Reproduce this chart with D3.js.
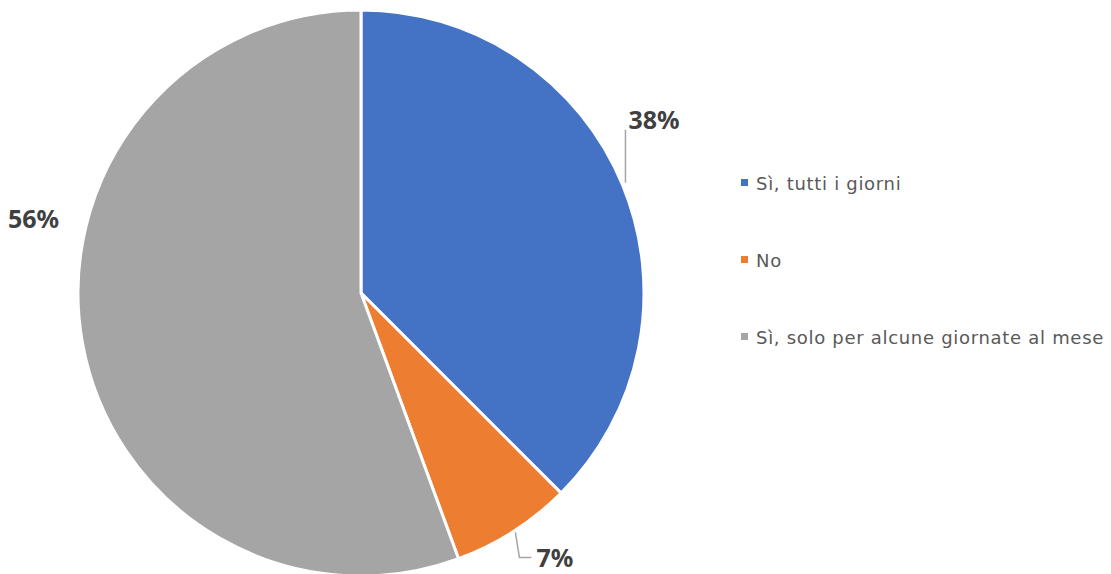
<!DOCTYPE html>
<html>
<head>
<meta charset="utf-8">
<script src="https://cdn.jsdelivr.net/npm/d3@7"></script>
<style>
  html, body { margin: 0; padding: 0; background: #fff; }
  svg { display: block; }
</style>
</head>
<body>
<svg id="chart" width="1111" height="574"></svg>
<script>
// Survey answers and their shares (percent)
const categories = ["Sì, tutti i giorni", "No", "Sì, solo per alcune giornate al mese"];
const values = [37.5, 6.9, 55.6];
const colors = ["#4472C4", "#ED7D31", "#A5A5A5"];

const svg = d3.select("#chart");
const cx = 361, cy = 293, radius = 283;

const pie = d3.pie().sort(null).value(d => d.value);
const arcs = pie(categories.map((c, i) => ({ name: c, value: values[i], color: colors[i] })));
const arc = d3.arc().innerRadius(0).outerRadius(radius);

const g = svg.append("g").attr("transform", `translate(${cx},${cy})`);

g.selectAll("path.slice")
  .data(arcs)
  .enter().append("path")
  .attr("class", "slice")
  .attr("d", arc)
  .attr("fill", d => d.data.color)
  .attr("stroke", "#fff")
  .attr("stroke-width", 3)
  .attr("stroke-linejoin", "round");

// Point on the rim at a slice's mid angle
function rimPoint(d, r) {
  const a = (d.startAngle + d.endAngle) / 2;
  return [r * Math.sin(a), -r * Math.cos(a)];
}

const fmt = v => Math.round(v) + "%";
const labelFont = "'Noto Sans', 'DejaVu Sans', sans-serif";
const labelSize = 25;

// 38% label with a vertical leader line
{
  const d = arcs[0];
  const [x0, y0] = rimPoint(d, radius);
  g.append("polyline")
    .attr("points", `${x0 + 3},${y0 - 2} ${x0 + 3},${y0 - 55}`)
    .attr("fill", "none").attr("stroke", "#A6A6A6").attr("stroke-width", 1.5);
  g.append("text")
    .attr("x", x0 + 6).attr("y", y0 - 56)
    .attr("font-family", labelFont).attr("font-weight", 700)
    .attr("font-size", labelSize).attr("fill", "#404040")
    .text(fmt(d.data.value));
}

// 7% label with an elbow leader line
{
  const d = arcs[1];
  const [x0, y0] = rimPoint(d, radius);
  g.append("polyline")
    .attr("points", `${x0 + 2},${y0 + 1} ${x0 + 6},${y0 + 26} ${x0 + 18},${y0 + 26}`)
    .attr("fill", "none").attr("stroke", "#A6A6A6").attr("stroke-width", 1.5);
  g.append("text")
    .attr("x", x0 + 23).attr("y", y0 + 36)
    .attr("font-family", labelFont).attr("font-weight", 700)
    .attr("font-size", labelSize).attr("fill", "#404040")
    .text(fmt(d.data.value));
}

// 56% label placed outside the left edge
{
  const d = arcs[2];
  g.append("text")
    .attr("x", -radius - 70).attr("y", -65)
    .attr("font-family", labelFont).attr("font-weight", 700)
    .attr("font-size", labelSize).attr("fill", "#404040")
    .text(fmt(d.data.value));
}

// Legend
const legendY = d3.scalePoint().domain(categories).range([183, 337]);
const legend = svg.append("g");
const items = legend.selectAll("g.item")
  .data(arcs)
  .enter().append("g")
  .attr("class", "item")
  .attr("transform", d => `translate(741,${legendY(d.data.name)})`);

items.append("rect")
  .attr("x", 0).attr("y", -4)
  .attr("width", 7).attr("height", 7)
  .attr("fill", d => d.data.color);

items.append("text")
  .attr("x", 15).attr("y", 6.5)
  .attr("font-family", "'DejaVu Sans', sans-serif")
  .attr("font-size", 18).attr("fill", "#595959")
  .attr("letter-spacing", 0.7)
  .text(d => d.data.name);
</script>
</body>
</html>
